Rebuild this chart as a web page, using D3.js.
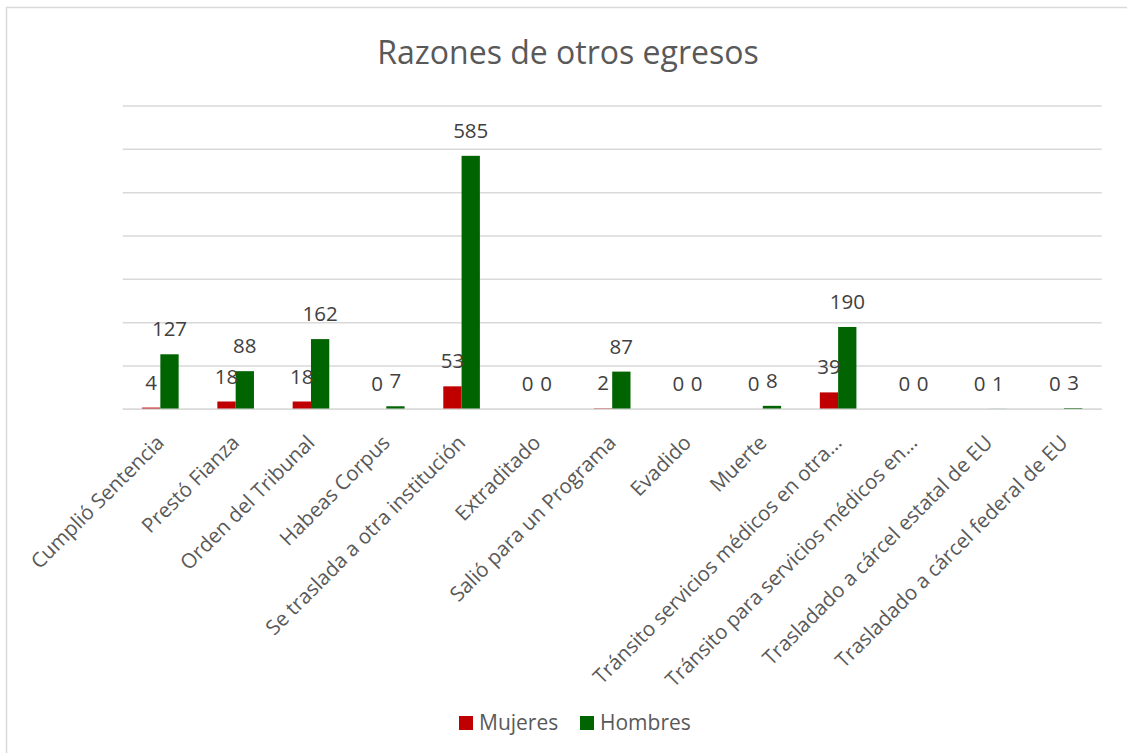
<!DOCTYPE html>
<html>
<head>
<meta charset="utf-8">
<script src="https://cdn.jsdelivr.net/npm/d3@7"></script>
<style>
  body { margin: 0; background: #fff; }
  svg { font-family: "Open Sans", "Noto Sans", sans-serif; }
</style>
</head>
<body>
<svg id="chart" width="1127" height="753"></svg>
<script>
const categories = [
  'Cumplió Sentencia', 'Prestó Fianza', 'Orden del Tribunal', 'Habeas Corpus',
  'Se traslada a otra institución', 'Extraditado', 'Salió para un Programa',
  'Evadido', 'Muerte', 'Tránsito servicios médicos en otra…',
  'Tránsito para servicios médicos en…', 'Trasladado a cárcel estatal de EU',
  'Trasladado a cárcel federal de EU'
]
const series = ['Mujeres', 'Hombres']
const mujeres = [4, 18, 18, 0, 53, 0, 2, 0, 0, 39, 0, 0, 0]
const hombres = [127, 88, 162, 7, 585, 0, 87, 0, 8, 190, 0, 1, 3]
const yTicks = [0, 100, 200, 300, 400, 500, 600, 700]
const colors = ['#C00000', '#006400']

const svg = d3.select('#chart')
const textColor = '#595959'

// chart frame (runs off right and bottom like the original)
svg.append('rect')
  .attr('x', 6.5).attr('y', 7.5)
  .attr('width', 1200).attr('height', 800)
  .attr('fill', 'none').attr('stroke', '#D9D9D9').attr('stroke-width', 1.5)

const x0 = d3.scaleBand().domain(categories).range([122.7, 1101.7])
  .paddingInner(0.514).paddingOuter(0.257)
const x1 = d3.scaleBand().domain(series).range([0, x0.bandwidth()])
const y = d3.scaleLinear().domain([0, 700]).range([409.3, 106])

// gridlines
svg.append('g').selectAll('line').data(yTicks).join('line')
  .attr('x1', 122.7).attr('x2', 1101.7)
  .attr('y1', d => y(d)).attr('y2', d => y(d))
  .attr('stroke', '#D9D9D9').attr('stroke-width', 1.5)

// title
svg.append('text')
  .attr('x', 568).attr('y', 64)
  .attr('text-anchor', 'middle')
  .attr('font-size', 32)
  .attr('fill', textColor)
  .text('Razones de otros egresos')

const rows = categories.map((c, i) => ({ cat: c, vals: [mujeres[i], hombres[i]] }))

const groups = svg.append('g').selectAll('g').data(rows).join('g')
  .attr('transform', d => `translate(${x0(d.cat)},0)`)

groups.selectAll('rect').data(d => d.vals.map((v, k) => ({ s: series[k], v, k }))).join('rect')
  .attr('x', d => x1(d.s))
  .attr('y', d => y(d.v))
  .attr('width', x1.bandwidth())
  .attr('height', d => y(0) - y(d.v))
  .attr('fill', d => colors[d.k])

groups.selectAll('text').data(d => d.vals.map((v, k) => ({ s: series[k], v, k }))).join('text')
  .attr('x', d => x1(d.s) + x1.bandwidth() / 2)
  .attr('y', d => y(d.v) - 18)
  .attr('text-anchor', 'middle')
  .attr('font-size', 20.5)
  .attr('fill', '#404040')
  .text(d => d.v)

// baseline
svg.append('line')
  .attr('x1', 122.7).attr('x2', 1101.7)
  .attr('y1', y(0)).attr('y2', y(0))
  .attr('stroke', '#D9D9D9').attr('stroke-width', 1.5)

// category axis labels, rotated
const xAxis = svg.append('g')
xAxis.selectAll('text').data(categories).join('text')
  .attr('transform', d => `translate(${x0(d) + x0.bandwidth() / 2 + 5},${444}) rotate(-45)`)
  .attr('text-anchor', 'end')
  .attr('font-size', 20.5)
  .attr('fill', textColor)
  .text(d => d)

// legend
const legend = svg.append('g').attr('transform', 'translate(459,716)')
const items = [{ name: 'Mujeres', x: 0 }, { name: 'Hombres', x: 121 }]
items.forEach((it, k) => {
  legend.append('rect').attr('x', it.x).attr('y', 0).attr('width', 14).attr('height', 14)
    .attr('fill', colors[k])
  legend.append('text').attr('x', it.x + 20).attr('y', 14)
    .attr('font-size', 21).attr('fill', textColor).text(it.name)
})
</script>
</body>
</html>
